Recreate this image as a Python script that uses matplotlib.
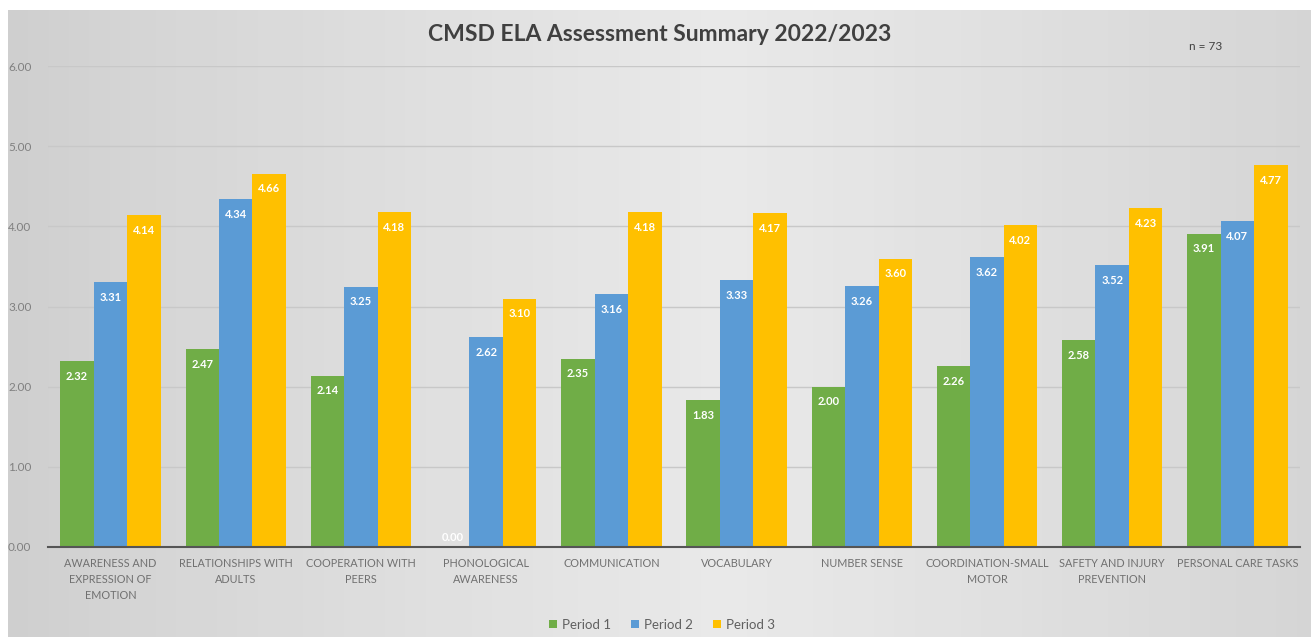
import numpy as np
import matplotlib.pyplot as plt

categorias = [
    "AWARENESS AND\nEXPRESSION OF\nEMOTION",
    "RELATIONSHIPS WITH\nADULTS",
    "COOPERATION WITH\nPEERS",
    "PHONOLOGICAL\nAWARENESS",
    "COMMUNICATION",
    "VOCABULARY",
    "NUMBER SENSE",
    "COORDINATION-SMALL\nMOTOR",
    "SAFETY AND INJURY\nPREVENTION",
    "PERSONAL CARE TASKS",
]
periodo_1 = [2.32, 2.47, 2.14, 0.00, 2.35, 1.83, 2.00, 2.26, 2.58, 3.91]
periodo_2 = [3.31, 4.34, 3.25, 2.62, 3.16, 3.33, 3.26, 3.62, 3.52, 4.07]
periodo_3 = [4.14, 4.66, 4.18, 3.10, 4.18, 4.17, 3.60, 4.02, 4.23, 4.77]
series = ["Period 1", "Period 2", "Period 3"]
cores = ["#70ad47", "#5b9bd5", "#ffc000"]

plt.rcParams['font.family'] = ['Lato', 'DejaVu Sans']

fig = plt.figure(figsize=(13.11, 6.37), dpi=100)
fig.patch.set_facecolor("white")

# fundo cinza com gradiente horizontal
fundo = fig.add_axes([0.006, 0.0, 0.994, 0.984], zorder=0)
grad = np.linspace(0, 1, 256)
grad = 1 - np.abs(grad - 0.55) * 1.2
fundo.imshow(grad[np.newaxis, :], aspect='auto', cmap='Greys_r', vmin=-3.2, vmax=1.8,
             extent=[0, 1, 0, 1])
fundo.set_axis_off()

ax = fig.add_axes([0.0366, 0.1413, 0.955, 0.7547], zorder=1)
ax.patch.set_alpha(0)

x = np.arange(len(categorias))
largura = 0.267
for i, (vals, nome, cor) in enumerate(zip([periodo_1, periodo_2, periodo_3], series, cores)):
    pos = x + (i - 1) * largura
    ax.bar(pos, vals, width=largura, color=cor, label=nome, zorder=3)
    for px, v in zip(pos, vals):
        if v > 0.3:
            ax.annotate(f"{v:.2f}", (px, v), xytext=(0, -7), textcoords="offset points",
                        ha="center", va="top", color="white", fontsize=8, fontweight="bold",
                        zorder=4)
        else:
            ax.annotate(f"{v:.2f}", (px, v), xytext=(0, 3), textcoords="offset points",
                        ha="center", va="bottom", color="white", fontsize=8, fontweight="bold",
                        zorder=4)

ax.set_xlim(-0.5, len(categorias) - 0.5)
ax.set_ylim(0, 6)
ax.set_yticks(np.arange(0, 7, 1))
ax.set_yticklabels([f"{t:.2f}" for t in range(7)], fontsize=8.5, color="#808080")
ax.set_xticks(x)
ax.set_xticklabels(categorias, fontsize=7.8, color="#707070", linespacing=1.55)
ax.tick_params(axis="both", length=0)
ax.tick_params(axis="y", pad=12)
ax.tick_params(axis="x", pad=8)
ax.grid(axis="y", color="#c8c8c8", linewidth=1, zorder=0)
for lado in ["top", "right", "left"]:
    ax.spines[lado].set_visible(False)
ax.spines["bottom"].set_color("#555555")
ax.spines["bottom"].set_linewidth(1.5)
ax.spines["bottom"].set_zorder(5)

fig.text(0.503, 0.946, "CMSD ELA Assessment Summary 2022/2023", ha="center", va="center",
         fontsize=16.5, fontweight="bold", color="#404040")
fig.text(0.92, 0.927, "n = 73", ha="center", va="center", fontsize=8.5, color="#404040")

fig.legend(loc="center", bbox_to_anchor=(0.505, 0.019), ncol=3, frameon=False, fontsize=9.5,
           handlelength=0.6, handleheight=0.6, handletextpad=0.4, columnspacing=1.5,
           labelcolor="#606060")

fig.savefig("out.png", dpi=100, facecolor=fig.get_facecolor())
